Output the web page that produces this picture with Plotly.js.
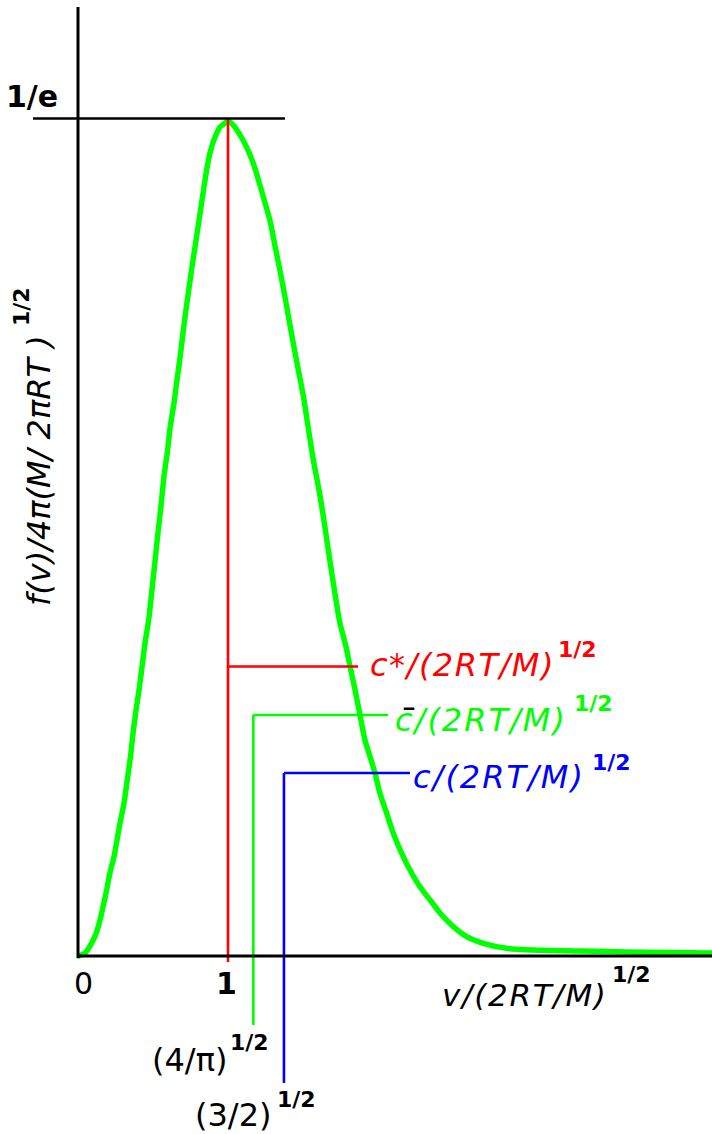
<!DOCTYPE html>
<html><head><meta charset="utf-8">
<script src="https://cdn.plot.ly/plotly-3.0.1.min.js"></script>
<style>html,body{margin:0;padding:0;background:#fff;overflow:hidden}</style>
</head><body><div id="chart" style="width:712px;height:1134px"></div>
<script>
// ---- data ----
const speedX = [0, 0.047, 0.091, 0.122, 0.147, 0.167, 0.191, 0.213, 0.240, 0.260, 0.280, 0.307, 0.327, 0.350, 0.367, 0.387, 0.407, 0.427, 0.447, 0.471, 0.493, 0.513, 0.533, 0.553, 0.573, 0.595, 0.615, 0.640, 0.660, 0.680, 0.700, 0.720, 0.740, 0.760, 0.780, 0.800, 0.820, 0.840, 0.860, 0.880, 0.902, 0.925, 0.947, 0.973, 1.000, 1.035, 1.080, 1.125, 1.169, 1.202, 1.240, 1.280, 1.313, 1.347, 1.387, 1.425, 1.465, 1.502, 1.535, 1.569, 1.609, 1.640, 1.675, 1.708, 1.743, 1.785, 1.813, 1.847, 1.880, 1.913, 1.947, 1.980, 2.013, 2.058, 2.102, 2.158, 2.213, 2.280, 2.347, 2.425, 2.502, 2.591, 2.702, 2.858, 3.035, 3.347, 3.660, 4.227];
const densityY = [0, 0.0013, 0.0057, 0.0101, 0.0158, 0.0217, 0.0290, 0.0365, 0.0436, 0.0510, 0.0584, 0.0672, 0.0766, 0.0876, 0.0980, 0.1081, 0.1169, 0.1271, 0.1375, 0.1476, 0.1608, 0.1732, 0.1858, 0.1974, 0.2106, 0.2210, 0.2325, 0.2429, 0.2530, 0.2627, 0.2737, 0.2838, 0.2934, 0.3026, 0.3114, 0.3202, 0.3290, 0.3378, 0.3461, 0.3527, 0.3577, 0.3615, 0.3642, 0.3655, 0.3668, 0.3650, 0.3607, 0.3552, 0.3481, 0.3411, 0.3324, 0.3230, 0.3120, 0.3010, 0.2869, 0.2728, 0.2587, 0.2461, 0.2320, 0.2179, 0.2038, 0.1912, 0.1755, 0.1614, 0.1473, 0.1363, 0.1274, 0.1169, 0.1059, 0.0949, 0.0876, 0.0803, 0.0715, 0.0627, 0.0539, 0.0451, 0.0378, 0.0304, 0.0246, 0.0180, 0.0129, 0.0085, 0.0056, 0.0034, 0.0026, 0.0022, 0.0018, 0.0013];
const peakValue = 0.3679;            // 1/e
const peakLabel = '1/e';
const refNames = ['c*', 'c̄', 'c'];  // most probable, mean, rms
const refX = [1.0, 1.169, 1.373];
const refLevel = [0.1272, 0.1059, 0.0804];
const refEndX = [1.867, 2.067, 2.213];
const refBottom = [-0.0026, -0.0303, -0.0558];
const tickVals = [0, 1];
const tickText = ['0', '1'];
const refTickText = ['(4/π)', '(3/2)'];
const xMax = 4.2267, xMin = -0.52, yMin = -0.07819, yMax = 0.41996, yAxisTop = 0.4169;

// ---- styling / layout ----
const W = 712, H = 1134;
const PX = x => x / W, PY = y => 1 - y / H;
const FONT = 'DejaVu Sans';
const refColors = ['#ff0000', '#00ff00', '#0000ff'];
const traces = [];

traces.push({x: speedX, y: densityY, mode: 'lines', line: {color: '#00ff00', width: 5.5, shape: 'spline', smoothing: 0.8}, hoverinfo: 'skip'});
refX.forEach((rx, i) => {
  const top = i === 0 ? peakValue : refLevel[i];
  traces.push({
    x: [rx, rx, null, rx, refEndX[i]],
    y: [top, refBottom[i], null, refLevel[i], refLevel[i]],
    mode: 'lines', line: {color: refColors[i], width: 2.6}, hoverinfo: 'skip'
  });
});

const shapes = [
  {type: 'line', xref: 'x', yref: 'y', x0: 0, x1: 0, y0: yAxisTop, y1: -0.001, line: {color: '#000', width: 3}},
  {type: 'line', xref: 'x', yref: 'y', x0: 0, x1: xMax, y0: 0, y1: 0, line: {color: '#000', width: 3}},
  {type: 'line', xref: 'x', yref: 'y', x0: -0.3, x1: 1.38, y0: peakValue, y1: peakValue, line: {color: '#000', width: 2.6}}
];

function ann(text, x, y, o) {
  return Object.assign({xref: 'paper', yref: 'paper', x: PX(x), y: PY(y), text: text, showarrow: false,
    xanchor: 'left', yanchor: 'middle', borderpad: 0,
    font: {family: FONT, size: 32, color: '#000'}}, o || {});
}
const sp = (t, s) => '<span style="letter-spacing:' + s + 'px">' + t + '</span>';
const axisUnit = '/(2RT/M)';
const half = '<b>1/2</b>';
const SUP = 22;

const annotations = [
  ann('<b>' + peakLabel + '</b>', 5, 96, {font: {family: FONT, size: 30, color: '#000'}}),
  ann(tickText[0], 78 + 150 * tickVals[0] + 5, 983, {xanchor: 'center', font: {family: FONT, size: 30, color: '#000'}}),
  ann('<b>' + tickText[1] + '</b>', 78 + 150 * tickVals[1] - 2, 983, {xanchor: 'center', font: {family: FONT, size: 30, color: '#000'}}),
  ann(refTickText[0], 151, 1060),
  ann(half, 229, 1042, {font: {family: FONT, size: SUP, color: '#000'}}),
  ann(refTickText[1], 194, 1115),
  ann(half, 276, 1099, {font: {family: FONT, size: SUP, color: '#000'}}),
  ann('<i>' + sp('v' + axisUnit, 1.7) + '</i>', 441, 995, {font: {family: FONT, size: 31, color: '#000'}}),
  ann(half, 611, 974, {font: {family: FONT, size: SUP, color: '#000'}}),
  // reference speed labels
  ann('<i>' + sp('c*' + axisUnit, 1.5) + '</i>', 369, 665, {font: {family: FONT, size: 32, color: refColors[0]}}),
  ann(half, 557, 649, {font: {family: FONT, size: SUP, color: refColors[0]}}),
  ann('<i>' + sp('c' + axisUnit, 2) + '</i>', 394, 720, {font: {family: FONT, size: 32, color: refColors[1]}}),
  ann('¯', 399, 721, {font: {family: FONT, size: 36, color: '#000'}}),
  ann(half, 573, 703, {font: {family: FONT, size: SUP, color: refColors[1]}}),
  ann('<i>' + sp('c' + axisUnit, 2) + '</i>', 412, 777, {font: {family: FONT, size: 32, color: refColors[2]}}),
  ann(half, 591, 762, {font: {family: FONT, size: SUP, color: refColors[2]}}),
  // y-axis title (rotated)
  ann('<i>f(v)/4π(M/ 2πRT )</i>', 39, 471, {xanchor: 'center', textangle: -90, font: {family: FONT, size: 32, color: '#000'}}),
  ann(half, 21, 307, {xanchor: 'center', textangle: -90, font: {family: FONT, size: SUP, color: '#000'}})
];

const layout = {
  width: W, height: H, margin: {l: 0, r: 0, t: 0, b: 0},
  paper_bgcolor: '#fff', plot_bgcolor: '#fff', showlegend: false,
  xaxis: {range: [xMin, xMax], visible: false, fixedrange: true},
  yaxis: {range: [yMin, yMax], visible: false, fixedrange: true},
  shapes: shapes, annotations: annotations
};
Plotly.newPlot('chart', traces, layout, {staticPlot: true, displayModeBar: false});
</script></body></html>
